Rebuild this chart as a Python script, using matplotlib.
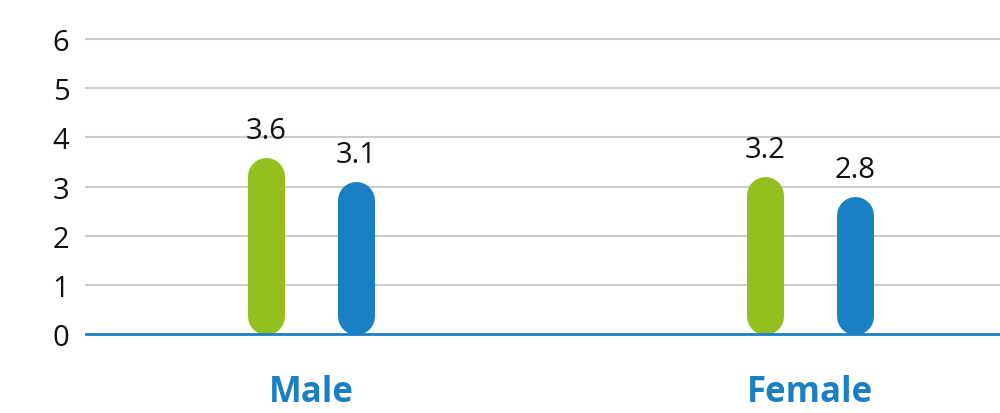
import matplotlib.pyplot as plt

categories = ["Male", "Female"]
series_a = [3.6, 3.2]   # green
series_b = [3.1, 2.8]   # blue
yticks = [0, 1, 2, 3, 4, 5, 6]

GREEN = "#93c01f"
BLUE = "#1b7fc4"

plt.rcParams['font.family'] = ['Open Sans', 'DejaVu Sans']

fig = plt.figure(figsize=(10, 4.14), dpi=100)
ax = fig.add_axes([0.086, 1 - 335 / 414, 0.914, (335 - 40) / 414])
ax.set_xlim(-0.451, 1.381)
ax.set_ylim(0, 6)

# pixel scale per data unit, used to size the rounded bar caps
px_y = 295 / 6.0
bar_px = 37
r = (bar_px / 2) / px_y
lw = bar_px * 72 / 100

offset = 0.09
for i, cat in enumerate(categories):
    for dx, v, c in [(-offset, series_a[i], GREEN), (offset, series_b[i], BLUE)]:
        x = i + dx
        ax.plot([x, x], [r, v - r], color=c, lw=lw, solid_capstyle='round', zorder=3)
        ax.annotate(f"{v:.1f}", (x, v), xytext=(0, 9), textcoords='offset points',
                    ha='center', va='bottom', fontsize=21, color='#111111')

for y in yticks[1:]:
    ax.axhline(y, color='#cccccc', lw=1.5, zorder=1, clip_on=False)
ax.axhline(0, color=BLUE, lw=2, zorder=4, clip_on=False)

for s in ax.spines.values():
    s.set_visible(False)

ax.set_yticks(yticks)
ax.set_yticklabels([str(t) for t in yticks])
ax.tick_params(axis='y', length=0, pad=12, labelsize=21, labelcolor='#111111')

ax.set_xticks(range(len(categories)))
ax.set_xticklabels(categories)
ax.tick_params(axis='x', length=0, pad=29, labelsize=25, labelcolor=BLUE)
for lbl in ax.get_xticklabels():
    lbl.set_fontweight('bold')

fig.savefig("out.png", dpi=100)
